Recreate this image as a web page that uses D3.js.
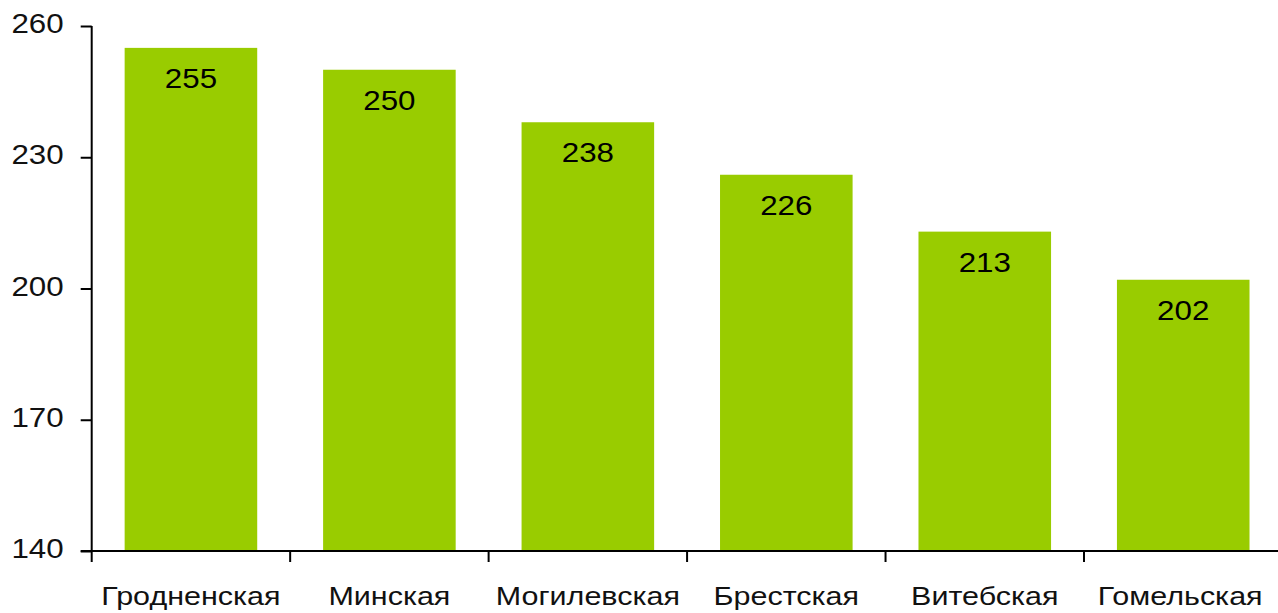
<!DOCTYPE html>
<html><head><meta charset="utf-8">
<script src="https://cdn.jsdelivr.net/npm/d3@7"></script>
<style>body{margin:0;background:#fff}svg{display:block}</style>
</head><body>
<svg id="c" width="1278" height="613"></svg>
<script>
const categories = ["Гродненская","Минская","Могилевская","Брестская","Витебская","Гомельская"];
const values = [255, 250, 238, 226, 213, 202];
const yTicks = [140, 170, 200, 230, 260];

const svg = d3.select("#c");
const font = "'Liberation Sans', Arial, sans-serif";
const sx = 1.16, sxCat = 1.22;
const mLeft = 91.7, mBottom = 551, mTop = 26;
const x = d3.scaleBand().domain(categories).range([mLeft, mLeft + 6*198.46]).paddingInner(0.332).paddingOuter(0.166);
const y = d3.scaleLinear().domain([140, 260]).range([mBottom, mTop]);

svg.selectAll("rect.bar").data(values).join("rect")
  .attr("class","bar")
  .attr("x",(d,i)=>x(categories[i]))
  .attr("width",x.bandwidth())
  .attr("y",d=>y(d))
  .attr("height",d=>mBottom-y(d))
  .attr("fill","#99cc00");

svg.selectAll("text.val").data(values).join("text")
  .attr("class","val")
  .attr("transform",(d,i)=>`translate(${x(categories[i])+x.bandwidth()/2},${y(d)+40}) scale(${sx},1)`)
  .attr("text-anchor","middle")
  .attr("font-family",font).attr("font-size",27).attr("fill","#000")
  .text(d=>d);

// y axis
const ya = svg.append("g").attr("transform",`translate(${mLeft},0)`)
  .call(d3.axisLeft(y).tickValues(yTicks).tickSize(11).tickSizeOuter(0).tickPadding(0));
ya.select(".domain").attr("stroke","#000").attr("stroke-width",2).attr("d",`M0,${mTop}V${mBottom}`);
ya.selectAll(".tick line").attr("stroke","#000").attr("stroke-width",2);
ya.selectAll(".tick text").attr("font-family",font).attr("font-size",27).attr("fill","#111")
  .attr("text-anchor","end").attr("dy","0.32em").attr("x",0)
  .attr("transform",`translate(-28,-2) scale(${sx},1)`);

// x axis
const xa = svg.append("g").attr("transform",`translate(0,${mBottom})`);
xa.append("line").attr("x1",mLeft-11).attr("x2",1278).attr("y1",0).attr("y2",0).attr("stroke","#000").attr("stroke-width",2);
const bounds = d3.range(0, categories.length+1).map(i => mLeft + i*x.step());
xa.selectAll("line.t").data(bounds).join("line").attr("class","t")
  .attr("x1",d=>d).attr("x2",d=>d).attr("y1",0).attr("y2",11).attr("stroke","#000").attr("stroke-width",2);
xa.selectAll("text.cat").data(categories).join("text").attr("class","cat")
  .attr("transform",(d,i)=>{let cx=x(d)+x.bandwidth()/2; if(i===categories.length-1) cx-=3; return `translate(${cx},54) scale(${sxCat},1)`;})
  .attr("text-anchor","middle")
  .attr("font-family",font).attr("font-size",25).attr("fill","#111")
  .text(d=>d);
</script>
</body></html>
